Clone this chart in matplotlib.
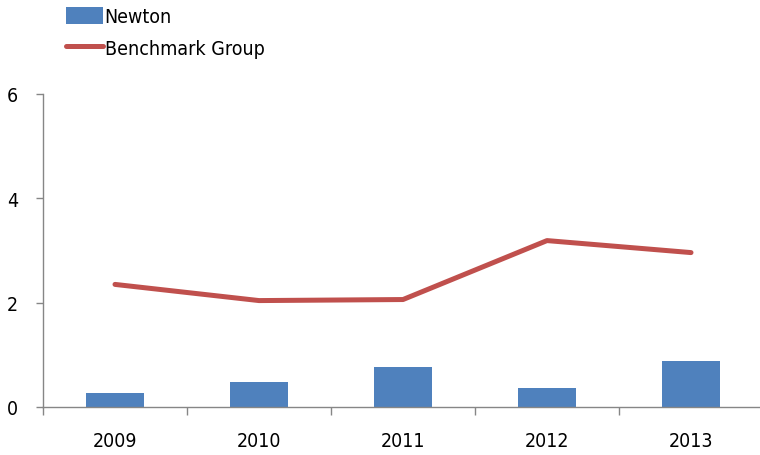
import matplotlib
matplotlib.use("Agg")
import matplotlib.pyplot as plt
import numpy as np

years = ["2009", "2010", "2011", "2012", "2013"]
newton = [0.27, 0.47, 0.77, 0.36, 0.88]
benchmark = [2.35, 2.04, 2.06, 3.19, 2.96]

plt.rcParams['font.family'] = ['DejaVu Sans']
plt.rcParams['font.stretch'] = 'condensed'

fig = plt.figure(figsize=(7.6, 4.56), dpi=100)
ax = fig.add_axes([43 / 760, 48 / 456, 720 / 760, 313 / 456])

x = np.arange(len(years))
bars = ax.bar(x, newton, width=0.4, color='#4F81BD', label='Newton', zorder=2)
line, = ax.plot(x, benchmark, color='#C0504D', linewidth=3.6, label='Benchmark Group',
                solid_capstyle='round', zorder=3)

ax.set_xlim(-0.5, len(years) - 0.5)
ax.set_ylim(0, 6)
ax.set_yticks([0, 2, 4, 6])
ax.set_xticks(x)
ax.set_xticklabels(years)
ax.set_xticks(np.arange(len(years) + 1) - 0.5, minor=True)
ax.tick_params(axis='x', which='major', length=0, pad=17, labelsize=14)
ax.tick_params(axis='x', which='minor', length=6, color='#868686', width=1)
ax.tick_params(axis='y', length=5, color='#868686', width=1, labelsize=14, pad=13)

for side in ['top', 'right']:
    ax.spines[side].set_visible(False)
for side in ['left', 'bottom']:
    ax.spines[side].set_color('#868686')
    ax.spines[side].set_linewidth(1)

ax.legend([bars, line], ['Newton', 'Benchmark Group'], loc='upper left',
          bbox_to_anchor=(58 / 760, 1.0), bbox_transform=fig.transFigure,
          frameon=False, fontsize=14, handlelength=1.9, handleheight=1.0,
          handletextpad=0.1, labelspacing=0.62, borderaxespad=0.0)

plt.savefig("out.png", dpi=100)
plt.close()
